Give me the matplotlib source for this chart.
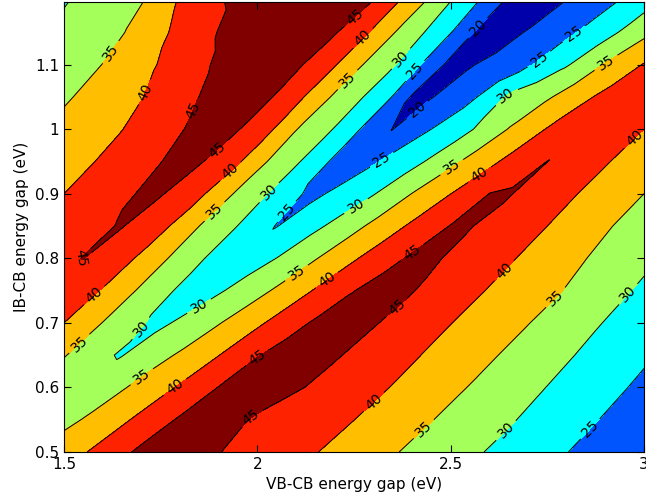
import numpy as np
import matplotlib
matplotlib.use("Agg")
import matplotlib.pyplot as plt
import matplotlib.tri as mtri

# VB-CB gap (x) and IB-CB gap (y) grid, eV
eg = np.round(np.arange(1.5, 3.0001, 0.05), 2)
el = np.round(np.arange(0.5, 1.2001, 0.05), 2)

# efficiency (%), one row per IB-CB gap value (0.50 ... 1.20)
eff_050 = [37.7, 39.6, 41.7, 43.9, 46.1, 48.15, 47.15, 46.15, 45.15, 44.15, 43.2, 42.2, 41.2, 40.2, 39.0, 37.8,
           36.6, 35.4, 34.2, 33.1, 31.9, 30.8, 29.7, 28.5, 27.4, 26.2, 25.1, 24.0, 22.8, 21.7, 20.5]
eff_055 = [33.6, 35.2, 37.2, 39.1, 41.25, 43.5, 45.6, 47.6, 46.8, 45.55, 44.5, 43.6, 42.7, 41.8, 40.9, 40.04,
           38.8, 37.6, 36.4, 35.15, 34.0, 32.8, 31.7, 30.5, 29.3, 28.1, 27.0, 25.8, 24.6, 23.4, 22.2]
eff_060 = [31.6, 31.25, 32.9, 34.5, 36.5, 38.5, 40.6, 42.9, 45.15, 46.9, 47.0, 46.2, 45.4, 44.5, 43.3, 42.15,
           41.0, 39.8, 38.5, 37.3, 36.0, 34.8, 33.6, 32.35, 31.1, 29.9, 28.7, 27.5, 26.4, 25.2, 24.0]
eff_065 = [35.3, 33.3, 30.3, 29.8, 32.0, 33.8, 35.6, 37.7, 39.9, 42.3, 44.75, 46.3, 46.8, 46.1, 45.4, 44.4,
           43.15, 41.9, 40.6, 39.3, 38.1, 36.8, 35.6, 34.3, 33.0, 31.8, 30.5, 29.3, 28.1, 26.9, 25.7]
eff_070 = [40.0, 37.4, 34.9, 32.6, 30.3, 29.1, 30.75, 32.7, 34.7, 36.85, 39.1, 41.4, 43.7, 45.7, 46.6, 46.0,
           45.3, 44.3, 42.9, 41.5, 40.1, 38.9, 37.6, 36.4, 35.15, 33.8, 32.5, 31.1, 29.8, 28.6, 27.4]
eff_075 = [42.9, 41.4, 39.7, 36.9, 34.2, 31.8, 29.1, 27.86, 29.4, 31.3, 33.5, 35.7, 38.05, 40.4, 42.6, 44.9,
           46.4, 45.8, 45.2, 43.9, 42.5, 41.1, 39.7, 38.5, 37.25, 36.0, 34.75, 33.3, 31.9, 30.45, 29.2]
eff_080 = [44.3, 45.1, 43.3, 41.4, 39.2, 36.0, 33.35, 30.9, 27.7, 26.8, 28.4, 30.06, 32.4, 34.7, 37.1, 39.5,
           41.7, 43.9, 45.8, 45.5, 44.6, 43.3, 41.9, 40.5, 39.2, 37.8, 36.4, 35.06, 33.7, 32.4, 31.0]
eff_085 = [42.0, 43.3, 44.6, 45.25, 43.3, 41.2, 38.6, 35.0, 32.5, 29.9, 26.7, 24.8, 27.1, 29.0, 31.1, 33.6,
           36.1, 38.5, 40.85, 43.05, 45.2, 45.2, 44.1, 42.7, 41.3, 40.0, 38.5, 37.0, 35.5, 34.2, 32.9]
eff_090 = [40.0, 41.35, 42.7, 44.1, 45.4, 45.4, 43.3, 41.0, 37.7, 34.1, 31.5, 28.7, 25.5, 24.05, 25.9, 27.8,
           29.7, 32.3, 35.1, 37.5, 39.96, 42.2, 45.05, 45.4, 43.6, 42.2, 40.8, 39.4, 37.9, 36.4, 35.0]
eff_095 = [38.1, 39.24, 40.5, 41.95, 43.4, 44.9, 46.4, 45.5, 43.3, 40.7, 36.7, 33.4, 30.7, 27.6, 23.9, 22.45,
           24.4, 26.4, 28.5, 30.8, 33.7, 36.3, 38.8, 41.15, 43.3, 45.05, 43.2, 41.8, 40.4, 38.9, 37.3]
eff_100 = [36.2, 37.4, 38.66, 39.9, 41.5, 43.1, 44.7, 46.1, 46.9, 45.26, 42.55, 39.5, 35.2, 32.45, 29.7, 26.3,
           22.1, 19.9, 23.05, 25.0, 27.3, 29.5, 32.3, 35.2, 37.8, 40.3, 42.2, 44.1, 43.0, 41.5, 40.0]
eff_105 = [34.45, 35.6, 37.0, 38.4, 39.8, 41.5, 43.3, 45.04, 46.25, 47.46, 46.4, 44.6, 41.5, 37.9, 34.2, 31.5,
           28.4, 24.8, 19.5, 19.7, 22.1, 23.8, 27.0, 30.9, 32.6, 34.4, 36.6, 39.3, 41.2, 42.9, 43.4]
eff_110 = [32.85, 33.94, 35.06, 36.8, 38.56, 40.35, 42.3, 44.2, 45.6, 46.7, 47.7, 47.2, 45.8, 43.6, 40.4, 36.5,
           33.3, 30.6, 27.0, 22.6, 18.6, 19.5, 21.36, 22.9, 24.4, 26.8, 29.5, 32.5, 35.4, 37.9, 40.3]
eff_115 = [31.2, 32.37, 33.54, 34.7, 36.75, 39.1, 41.26, 43.3, 45.18, 46.15, 47.1, 48.1, 48.0, 46.7, 45.4, 42.7,
           39.2, 35.4, 32.1, 28.8, 25.2, 20.7, 17.45, 17.7, 20.7, 22.35, 24.0, 25.9, 28.3, 30.86, 33.7]
eff_120 = [29.6, 30.86, 32.1, 33.35, 34.6, 37.2, 40.4, 42.5, 44.7, 45.75, 46.6, 47.5, 48.4, 48.6, 47.4, 46.2,
           45.05, 41.4, 37.8, 34.1, 30.2, 26.8, 23.1, 19.2, 16.1, 16.3, 20.1, 21.9, 23.7, 25.5, 27.6]

eff = np.array([eff_050, eff_055, eff_060, eff_065, eff_070, eff_075, eff_080, eff_085,
                eff_090, eff_095, eff_100, eff_105, eff_110, eff_115, eff_120])

levels = [10, 15, 20, 25, 30, 35, 40, 45, 50]
band_colors = ['#00007F', '#0000AA', '#0055FF', '#00FFFF', '#A5FF5A', '#FFBF00', '#FF2200', '#800000']
line_levels = [15, 20, 25, 30, 35, 40, 45]

# where the labels sit in the reference (eV, eV)
label_spots = [(1.624, 1.118), (1.714, 1.056), (1.844, 1.026), (1.903, 0.963), (1.934, 0.932),
               (1.898, 0.867), (2.032, 0.901), (2.071, 0.875), (1.541, 0.800), (1.585, 0.738),
               (1.547, 0.663), (1.696, 0.693), (2.265, 1.165), (2.283, 1.135), (2.247, 1.068),
               (2.376, 1.107), (2.412, 1.088), (2.583, 1.150), (2.420, 1.025), (2.322, 0.952),
               (2.257, 0.879), (2.503, 0.941), (2.575, 0.929), (2.80, 1.165), (2.730, 1.107),
               (2.658, 1.037), (2.903, 1.102), (2.962, 0.994), (1.851, 0.724), (2.102, 0.777),
               (2.180, 0.766), (1.702, 0.616), (1.787, 0.601), (1.999, 0.647), (2.399, 0.810),
               (2.368, 0.720), (1.999, 0.539), (2.304, 0.576), (2.645, 0.777), (2.433, 0.534),
               (2.774, 0.738), (2.647, 0.531), (2.962, 0.743), (2.864, 0.534)]

# triangles whose long edge follows the diagonal trend of the bands
X, Y = np.meshgrid(eg, el)
ny, nx = eff.shape
tris = []
for j in range(ny - 1):
    a = j * nx
    b = (j + 1) * nx
    tris.append([a, b + 1, b])
    for i in range(nx - 2):
        tris.append([a + i, a + i + 1, b + i + 2])
        tris.append([a + i, b + i + 2, b + i + 1])
    tris.append([a + nx - 2, a + nx - 1, b + nx - 1])
tri = mtri.Triangulation(X.ravel(), Y.ravel(), np.array(tris))

fig = plt.figure(figsize=(6.46, 5.04), dpi=100)
ax = fig.add_axes([64 / 646, 52 / 504, 580 / 646, 450 / 504])

ax.tricontourf(tri, eff.ravel(), levels=levels, colors=band_colors)
cs = ax.tricontour(tri, eff.ravel(), levels=line_levels, colors='k', linewidths=0.7)
ax.clabel(cs, fmt='%d', fontsize=10, inline=True, manual=label_spots)

ax.set_xlim(1.5, 3.0)
ax.set_ylim(0.5, 1.197)
ax.set_xticks([1.5, 2, 2.5, 3])
ax.set_xticklabels(['1.5', '2', '2.5', '3'])
ax.set_yticks([0.5, 0.6, 0.7, 0.8, 0.9, 1.0, 1.1])
ax.set_yticklabels(['0.5', '0.6', '0.7', '0.8', '0.9', '1', '1.1'])
ax.tick_params(direction='in', top=True, right=True, labelsize=11, length=5)
ax.set_xlabel('VB-CB energy gap (eV)', fontsize=11)
ax.set_ylabel('IB-CB energy gap (eV)', fontsize=11)

fig.savefig('out.png', dpi=100)
